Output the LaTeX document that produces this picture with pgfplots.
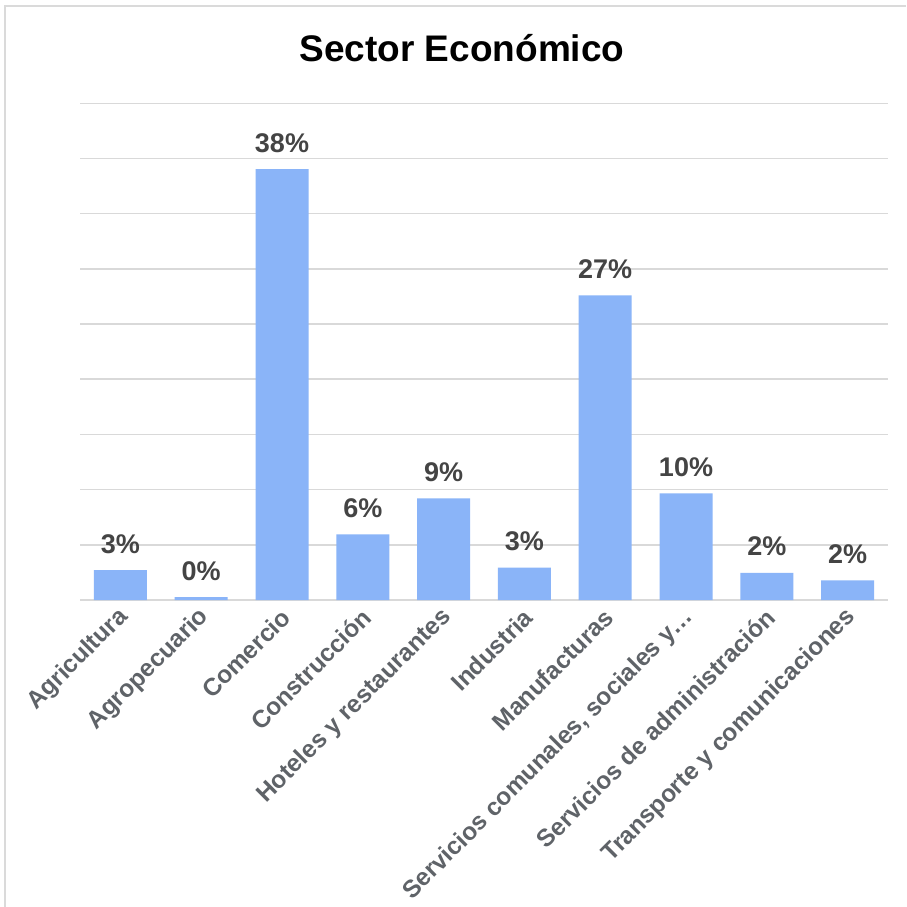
\documentclass[border=0pt]{standalone}
\usepackage{pgfplots}
\pgfplotsset{compat=1.18}
\usepackage{fontspec}
\setmainfont{Liberation Sans}
\definecolor{barblue}{HTML}{8AB4F8}
\definecolor{gridgrey}{HTML}{D9D9D9}
\definecolor{lblgrey}{HTML}{444444}
\definecolor{tickgrey}{HTML}{5F6368}
\definecolor{framegrey}{HTML}{DADADA}
\begin{document}
\begin{tikzpicture}[x=1pt,y=1pt]
\useasboundingbox (0,0) rectangle (906,907);
\fill[white] (0,0) rectangle (906,907);
\draw[framegrey, line width=2pt] (5,0) -- (5,901) -- (906,901);
\node[font=\bfseries\fontsize{37}{40}\selectfont, anchor=base] at (462,845) {Sector Económico};
\begin{axis}[
  at={(80pt,307pt)}, anchor=south west, scale only axis,
  width=808pt, height=496.7pt,
  xmin=-0.5, xmax=9.5, ymin=0, ymax=44.325,
  ytick={0,4.925,9.85,14.775,19.7,24.625,29.55,34.475,39.4,44.325},
  yticklabels={},
  ymajorgrids, major grid style={gridgrey, line width=1.5pt},
  axis line style={draw=none},
  xtick style={draw=none}, ytick style={draw=none},
  xtick={0,...,9},
  xticklabels={Agricultura, Agropecuario, Comercio, Construcción, Hoteles y restaurantes, Industria, Manufacturas, {Servicios comunales, sociales y…}, Servicios de administración, Transporte y comunicaciones},
  xticklabel style={yshift=-9pt, xshift=4pt, rotate=45, anchor=east, inner sep=0pt, font=\bfseries\fontsize{24.5}{24.5}\selectfont, text=tickgrey},
  ybar, bar width=53pt,
  clip=false,
  nodes near coords={\pgfplotspointmeta\%},
  point meta=explicit symbolic,
  every node near coord/.append style={anchor=base, yshift=17pt, inner sep=0pt, font=\bfseries\fontsize{27}{27}\selectfont, text=lblgrey},
]
\addplot[fill=barblue, draw=none] table[x=x, y=y, meta=lab] {
x y lab
0 2.66 3
1 0.25 0
2 38.46 38
3 5.85 6
4 9.06 9
5 2.90 3
6 27.19 27
7 9.51 10
8 2.41 2
9 1.75 2
};
\end{axis}
\end{tikzpicture}
\end{document}
